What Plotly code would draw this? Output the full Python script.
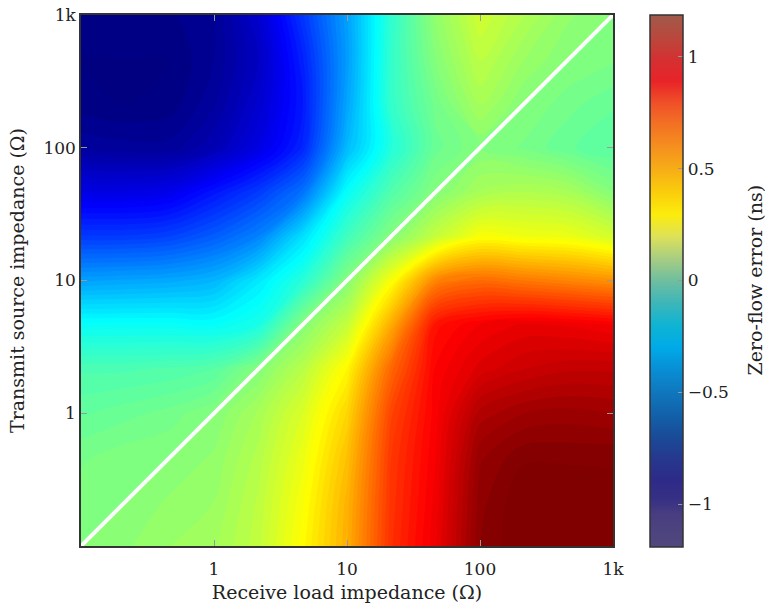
import plotly.graph_objects as go

# Grid (Ohm) at third-decade steps
load_impedance = [0.1, 0.215, 0.464, 1, 2.15, 4.64, 10, 21.5, 46.4, 100, 215, 464, 1000]     # x
source_impedance = [0.1, 0.215, 0.464, 1, 2.15, 4.64, 10, 21.5, 46.4, 100, 215, 464, 1000]   # y

# Zero-flow error (ns): rows = source impedance (ascending), cols = load impedance
zero_flow_error = [
    [0.00, 0.02, 0.05, 0.07, 0.14, 0.29, 0.47, 0.77, 0.92, 1.15, 1.20, 1.20, 1.19],
    [-0.01, 0.00, 0.03, 0.05, 0.13, 0.27, 0.46, 0.76, 0.91, 1.14, 1.20, 1.20, 1.19],
    [-0.03, -0.01, 0.00, 0.03, 0.11, 0.24, 0.43, 0.75, 0.90, 1.12, 1.17, 1.17, 1.17],
    [-0.08, -0.06, -0.04, 0.00, 0.08, 0.20, 0.38, 0.72, 0.89, 1.06, 1.10, 1.11, 1.10],
    [-0.13, -0.13, -0.12, -0.10, 0.00, 0.12, 0.30, 0.64, 0.88, 0.96, 1.00, 1.02, 1.02],
    [-0.29, -0.29, -0.29, -0.30, -0.25, 0.00, 0.15, 0.48, 0.84, 0.90, 0.93, 0.92, 0.90],
    [-0.53, -0.52, -0.51, -0.48, -0.36, -0.22, 0.00, 0.27, 0.57, 0.63, 0.60, 0.57, 0.54],
    [-0.77, -0.77, -0.75, -0.69, -0.60, -0.38, -0.16, 0.00, 0.15, 0.27, 0.25, 0.24, 0.18],
    [-0.97, -0.97, -0.95, -0.86, -0.77, -0.64, -0.30, -0.12, 0.00, 0.08, 0.10, 0.08, 0.00],
    [-1.13, -1.14, -1.14, -1.08, -0.97, -0.82, -0.47, -0.23, -0.06, 0.00, -0.03, -0.07, -0.10],
    [-1.19, -1.20, -1.19, -1.13, -1.02, -0.85, -0.52, -0.19, -0.04, 0.08, 0.00, -0.04, -0.07],
    [-1.20, -1.20, -1.20, -1.15, -1.05, -0.83, -0.54, -0.19, 0.00, 0.13, 0.05, 0.00, -0.02],
    [-1.19, -1.19, -1.18, -1.15, -1.02, -0.78, -0.53, -0.20, 0.03, 0.17, 0.10, 0.03, 0.00],
]

diag_x = [0.1, 1000]
diag_y = [0.1, 1000]

tick_vals = [1, 10, 100, 1000]
tick_text = ["1", "10", "100", "1k"]
cb_tick_vals = [-1, -0.5, 0, 0.5, 1]

jet = [
    [0.0, "rgb(0,0,128)"],
    [0.125, "rgb(0,0,255)"],
    [0.375, "rgb(0,255,255)"],
    [0.625, "rgb(255,255,0)"],
    [0.875, "rgb(255,0,0)"],
    [1.0, "rgb(128,0,0)"],
]

cb_scale = [
    [0.000, "rgb(82,72,125)"],
    [0.060, "rgb(72,62,128)"],
    [0.090, "rgb(55,48,132)"],
    [0.125, "rgb(45,42,136)"],
    [0.167, "rgb(38,56,142)"],
    [0.208, "rgb(25,76,152)"],
    [0.250, "rgb(18,98,170)"],
    [0.292, "rgb(15,120,190)"],
    [0.333, "rgb(8,142,212)"],
    [0.375, "rgb(0,170,232)"],
    [0.417, "rgb(15,180,210)"],
    [0.458, "rgb(60,182,185)"],
    [0.500, "rgb(110,190,160)"],
    [0.542, "rgb(168,205,130)"],
    [0.583, "rgb(220,225,90)"],
    [0.625, "rgb(252,236,12)"],
    [0.667, "rgb(250,205,12)"],
    [0.708, "rgb(247,175,22)"],
    [0.750, "rgb(245,145,30)"],
    [0.792, "rgb(243,115,35)"],
    [0.833, "rgb(240,82,40)"],
    [0.875, "rgb(232,36,40)"],
    [0.917, "rgb(212,48,50)"],
    [0.950, "rgb(190,68,58)"],
    [1.000, "rgb(160,90,75)"],
]

FONT = "DejaVu Serif"
TXT = "#222222"

fig = go.Figure()

fig.add_trace(go.Contour(
    x=load_impedance, y=source_impedance, z=zero_flow_error,
    colorscale=jet, zmin=-1.2, zmax=1.2, zauto=False,
    contours=dict(coloring="fill", start=-1.2, end=1.2, size=0.025, showlines=False),
    line=dict(width=0, smoothing=1.0),
    showscale=False, hoverinfo="skip",
))

fig.add_trace(go.Scatter(
    x=diag_x, y=diag_y, mode="lines",
    line=dict(color="white", width=4), showlegend=False, hoverinfo="skip",
))

# colour bar (own, faded palette as in the reference)
fig.add_trace(go.Scatter(
    x=[None], y=[None], mode="markers", showlegend=False, hoverinfo="skip",
    marker=dict(
        color=[0], colorscale=cb_scale, cmin=-1.19, cmax=1.19, showscale=True, size=0,
        colorbar=dict(
            x=(650 - 81) / 532, xanchor="left", y=0.5, yanchor="middle",
            len=532, lenmode="pixels", thickness=33, thicknessmode="pixels",
            xpad=0, ypad=0, outlinewidth=1.5, outlinecolor="#333333",
            tickvals=cb_tick_vals, ticks="inside", ticklen=5, tickcolor="#999999",
            tickfont=dict(family=FONT, size=17, color=TXT),
        ),
    ),
))

fig.add_annotation(
    text="Zero-flow error (ns)", xref="paper", yref="paper",
    x=(754 - 81) / 532, y=0.5, xanchor="center", yanchor="middle",
    textangle=-90, showarrow=False,
    font=dict(family=FONT, size=19, color=TXT),
)

axis_common = dict(
    type="log", range=[-1, 3], tickvals=tick_vals, ticktext=tick_text,
    ticks="inside", ticklen=6, tickcolor="#999999", tickwidth=1,
    showline=True, linecolor="#333333", linewidth=1.5, mirror="ticks",
    showgrid=False, zeroline=False, automargin=False,
    tickfont=dict(family=FONT, size=17, color=TXT),
)

fig.update_layout(
    width=765, height=609,
    margin=dict(l=81, r=152, t=15, b=63),
    paper_bgcolor="white", plot_bgcolor="white",
    xaxis=dict(**axis_common, ticklabelstandoff=7,
               title=dict(text="Receive load impedance (Ω)", standoff=8,
                          font=dict(family=FONT, size=19, color=TXT))),
    yaxis=dict(**axis_common,
               title=dict(text="Transmit source impedance (Ω)", standoff=14,
                          font=dict(family=FONT, size=19, color=TXT))),
    showlegend=False,
)

fig.write_html("out.html")
